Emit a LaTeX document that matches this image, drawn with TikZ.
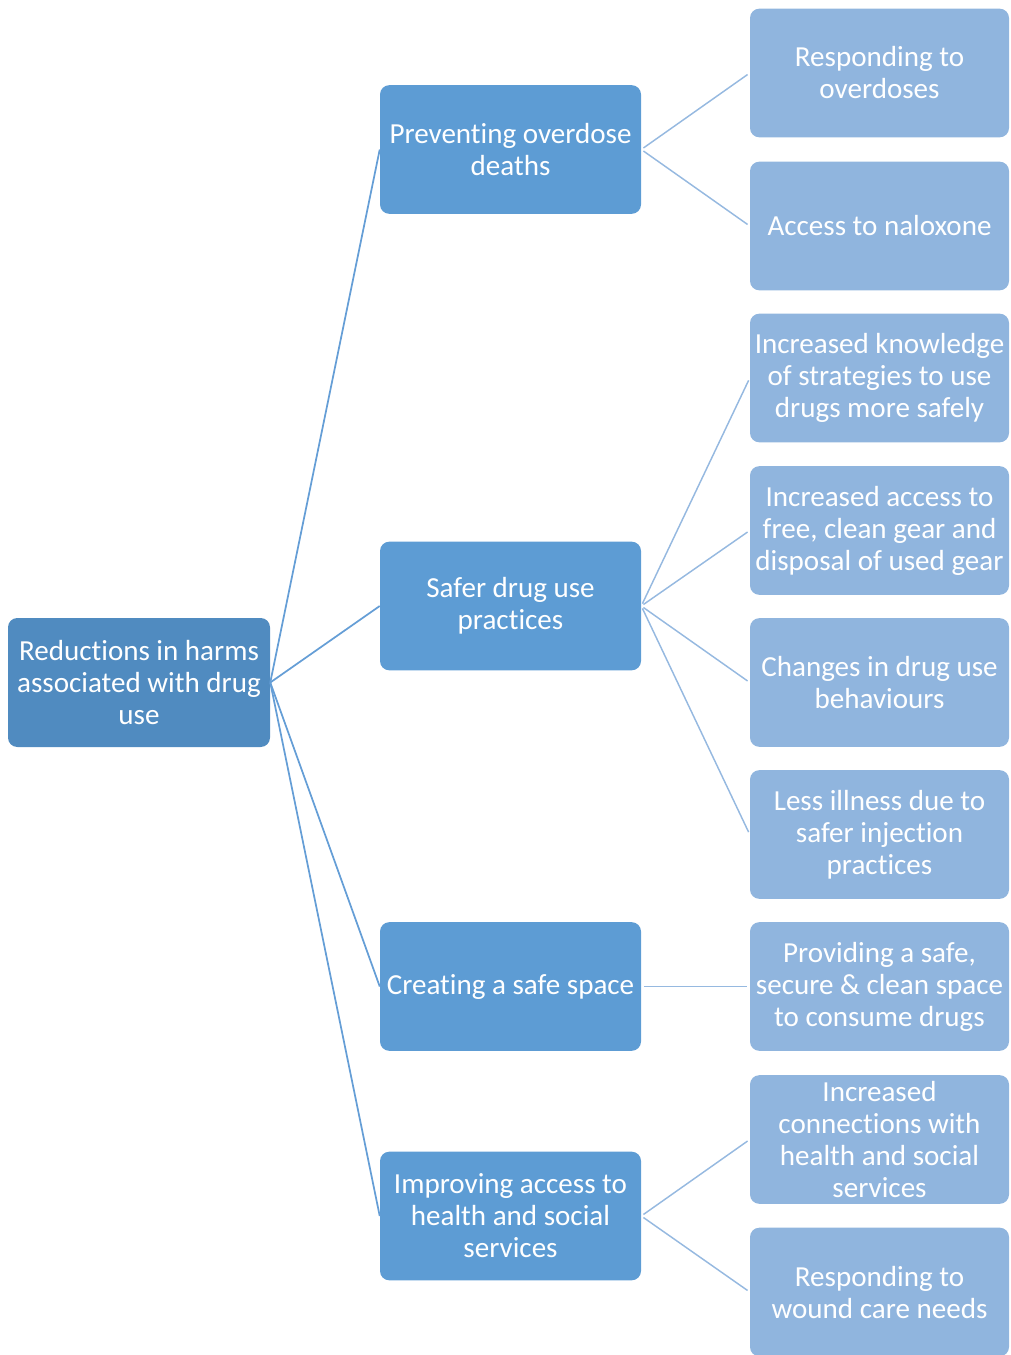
\documentclass[tikz,border=0pt]{standalone}
\usepackage{fontspec}
\setmainfont{Carlito}[Ligatures=NoCommon]
\definecolor{rootblue}{RGB}{80,139,192}
\definecolor{midblue}{RGB}{93,156,212}
\definecolor{leafblue}{RGB}{144,181,222}
\definecolor{linkblue}{RGB}{101,158,214}
\definecolor{sublinkblue}{RGB}{150,185,224}

\begin{document}
\begin{tikzpicture}[x=0.75pt,y=-0.75pt,
  box/.style={rounded corners=7pt, text=white, align=center, inner sep=0pt,
    font=\fontsize{21.8}{24}\selectfont},
  rootbox/.style={box, fill=rootblue, minimum width=196.5pt, minimum height=96.75pt},
  midbox/.style={box, fill=midblue, minimum width=195.75pt, minimum height=96.5pt},
  leafbox/.style={box, fill=leafblue, minimum width=194.25pt, minimum height=96.5pt},
  link/.style={linkblue, line width=1.3pt},
  sublink/.style={sublinkblue, line width=1.1pt}]
\useasboundingbox (0,0) rectangle (1010,1355);
% root
\node[rootbox] (r) at (139,682.5) {Reductions in harms\\associated with drug\\use};
% middle level
\node[midbox] (m1) at (510.5,149.5) {Preventing overdose\\deaths};
\node[midbox] (m2) at (510.5,606) {Safer drug use\\practices};
\node[midbox] (m3) at (510.5,986.5) {Creating a safe space};
\node[midbox] (m4) at (510.5,1216) {Improving access to\\health and social\\services};
% outcomes
\node[leafbox] (l1) at (879.5,73) {Responding to\\overdoses};
\node[leafbox] (l2) at (879.5,226) {Access to naloxone};
\node[leafbox] (l3) at (879.5,378) {Increased knowledge\\of strategies to use\\drugs more safely};
\node[leafbox] (l4) at (879.5,530.5) {Increased access to\\free, clean gear and\\disposal of used gear};
\node[leafbox] (l5) at (879.5,682.5) {Changes in drug use\\behaviours};
\node[leafbox] (l6) at (879.5,834.5) {Less illness due to\\safer injection\\practices};
\node[leafbox] (l7) at (879.5,986.5) {Providing a safe,\\secure \& clean space\\to consume drugs};
\node[leafbox] (l8) at (879.5,1139.5) {Increased\\connections with\\health and social\\services};
\node[leafbox] (l9) at (879.5,1292) {Responding to\\wound care needs};
% connectors
\foreach \m in {m1,m2,m3,m4}
  \draw[link] (r.east) -- (\m.west);
\foreach \m/\l in {m1/l1,m1/l2,m2/l3,m2/l4,m2/l5,m2/l6,m3/l7,m4/l8,m4/l9}
  \draw[sublink, shorten <=2pt, shorten >=2pt] (\m.east) -- (\l.west);
\end{tikzpicture}
\end{document}
